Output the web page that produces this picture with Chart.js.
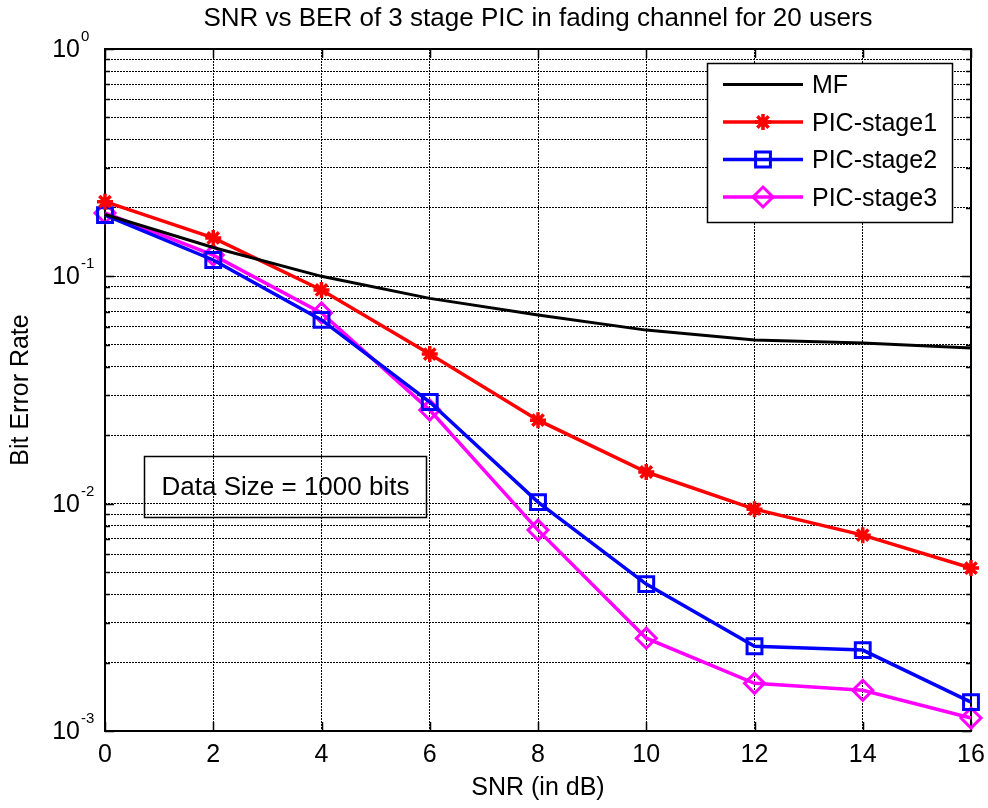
<!DOCTYPE html>
<html>
<head>
<meta charset="utf-8">
<script src="https://cdn.jsdelivr.net/npm/chart.js@4.4.1/dist/chart.umd.min.js"></script>
<style>
html,body{margin:0;padding:0;background:#fff;}
#wrap{width:988px;height:808px;position:relative;}
</style>
</head>
<body>
<div id="wrap"><canvas id="c" width="988" height="808"></canvas></div>
<script>
// ---- data ----
const snrDb = [0, 2, 4, 6, 8, 10, 12, 14, 16];
const berMF = [0.187, 0.134, 0.100, 0.080, 0.0676, 0.058, 0.0525, 0.0509, 0.0484];
const berStage1 = [0.213, 0.1475, 0.0871, 0.0455, 0.0233, 0.01378, 0.00946, 0.00727, 0.00521];
const berStage2 = [0.186, 0.118, 0.0643, 0.0280, 0.01016, 0.00443, 0.00236, 0.00227, 0.00134];
const berStage3 = [0.190, 0.124, 0.0690, 0.0258, 0.00765, 0.00256, 0.00162, 0.00151, 0.00114];
const seriesNames = ['MF', 'PIC-stage1', 'PIC-stage2', 'PIC-stage3'];
const xTicks = [0, 2, 4, 6, 8, 10, 12, 14, 16];
const yDecades = [1, 0.1, 0.01, 0.001];
const yExponents = ['0', '-1', '-2', '-3'];
const yMantissas = [1, 2, 3, 4, 5, 6, 7, 8, 9];
const titleText = 'SNR vs BER of 3 stage PIC in fading channel for 20 users';
const xTitle = 'SNR (in dB)';
const yTitle = 'Bit Error Rate';
const noteText = 'Data Size = 1000 bits';

// grid values for the log axis (1..9 per decade)
const yGridValues = [];
[0.001, 0.01, 0.1].forEach(d => yMantissas.forEach(m => yGridValues.push(m * d)));
yGridValues.push(1);

const FONT = '"Liberation Sans", Arial, Helvetica, sans-serif';
Chart.defaults.color = '#000';
Chart.defaults.font.family = FONT;

function pts(arr) { return snrDb.map((x, i) => ({ x: x, y: arr[i] })); }

const datasets = [
  { label: seriesNames[0], data: pts(berMF), borderColor: '#000000', backgroundColor: '#000000',
    borderWidth: 3, pointRadius: 0, pointStyle: false, clip: false },
  { label: seriesNames[1], data: pts(berStage1), borderColor: '#ff0000', backgroundColor: '#ff0000',
    borderWidth: 3.5, pointStyle: 'star', pointRadius: 8, pointBorderWidth: 3.5,
    pointBorderColor: '#ff0000', pointBackgroundColor: '#ff0000', clip: false },
  { label: seriesNames[2], data: pts(berStage2), borderColor: '#0000ff', backgroundColor: '#0000ff',
    borderWidth: 3.5, pointStyle: 'rect', pointRadius: 10.5, pointBorderWidth: 3,
    pointBorderColor: '#0000ff', pointBackgroundColor: 'rgba(0,0,0,0)', clip: false },
  { label: seriesNames[3], data: pts(berStage3), borderColor: '#ff00ff', backgroundColor: '#ff00ff',
    borderWidth: 3.5, pointStyle: 'rectRot', pointRadius: 10, pointBorderWidth: 3,
    pointBorderColor: '#ff00ff', pointBackgroundColor: 'rgba(0,0,0,0)', clip: false }
];

const matlabPlugin = {
  id: 'matlabLook',
  beforeDatasetsDraw(chart) {
    const { ctx, chartArea: a, scales: { x, y } } = chart;
    ctx.save();
    ctx.setLineDash([]);
    ctx.strokeStyle = '#000';
    ctx.lineWidth = 1.5;
    ctx.beginPath();
    xTicks.forEach(v => {
      const px = Math.round(x.getPixelForValue(v)) + 0.5;
      ctx.moveTo(px, a.bottom); ctx.lineTo(px, a.bottom - 9);
      ctx.moveTo(px, a.top); ctx.lineTo(px, a.top + 9);
    });
    yGridValues.forEach((v, i) => {
      const py = Math.round(y.getPixelForValue(v)) + 0.5;
      const L = (i % 9 === 0 || i === yGridValues.length - 1) ? 9 : 5;
      ctx.moveTo(a.left, py); ctx.lineTo(a.left + L, py);
      ctx.moveTo(a.right, py); ctx.lineTo(a.right - L, py);
    });
    ctx.stroke();
    ctx.lineWidth = 2;
    ctx.strokeRect(a.left, a.top, a.right - a.left, a.bottom - a.top);
    ctx.restore();
  },
  afterDraw(chart) {
    const { ctx, scales: { y } } = chart;
    ctx.save();
    // y tick labels with superscript exponents
    yDecades.forEach((v, i) => {
      const py = y.getPixelForValue(v);
      ctx.fillStyle = '#000';
      ctx.font = '25px ' + FONT;
      ctx.textAlign = 'right';
      ctx.textBaseline = 'middle';
      ctx.fillText('10', 80, py + 1);
      ctx.font = '15px ' + FONT;
      ctx.textAlign = 'left';
      ctx.fillText(yExponents[i], 81, py - 12);
    });

    // note box (transparent)
    ctx.lineWidth = 1.5;
    ctx.strokeStyle = '#000';
    ctx.strokeRect(144.5, 456.5, 282, 61);
    ctx.font = '26px ' + FONT;
    ctx.textAlign = 'center';
    ctx.textBaseline = 'middle';
    ctx.fillStyle = '#000';
    ctx.fillText(noteText, 285.5, 488);

    // legend box (white)
    const lx = 707, ly = 63, lw = 245, lh = 159;
    ctx.fillStyle = '#fff';
    ctx.fillRect(lx, ly, lw, lh);
    ctx.strokeRect(lx + 0.5, ly + 0.5, lw, lh);
    chart.data.datasets.forEach((ds, i) => {
      const yy = 84.5 + i * 37.5;
      ctx.setLineDash([]);
      ctx.strokeStyle = ds.borderColor;
      ctx.lineWidth = ds.borderWidth;
      ctx.beginPath();
      ctx.moveTo(723, yy); ctx.lineTo(803, yy);
      ctx.stroke();
      if (ds.pointStyle) {
        ctx.lineWidth = ds.pointBorderWidth;
        ctx.strokeStyle = ds.pointBorderColor;
        ctx.fillStyle = ds.pointBackgroundColor;
        Chart.helpers.drawPoint(ctx, { pointStyle: ds.pointStyle, radius: ds.pointRadius,
          rotation: 0, borderWidth: ds.pointBorderWidth }, 763, yy);
      }
      ctx.fillStyle = '#000';
      ctx.font = '25px ' + FONT;
      ctx.textAlign = 'left';
      ctx.textBaseline = 'middle';
      ctx.fillText(ds.label, 812, yy + 2);
    });
    ctx.restore();
  }
};

new Chart(document.getElementById('c'), {
  type: 'line',
  data: { datasets: datasets },
  plugins: [matlabPlugin],
  options: {
    responsive: false,
    devicePixelRatio: 1,
    animation: false,
    events: [],
    layout: { padding: { left: 0, right: 17, top: 0, bottom: 0 } },
    plugins: {
      legend: { display: false },
      tooltip: { enabled: false },
      title: {
        display: true, text: titleText, fullSize: false,
        font: { size: 26, weight: 'normal', family: FONT },
        color: '#000',
        padding: { top: 3, bottom: 14.8 }
      }
    },
    elements: { line: { tension: 0 } },
    scales: {
      x: {
        type: 'linear', min: 0, max: 16,
        afterBuildTicks: s => { s.ticks = xTicks.map(v => ({ value: v })); },
        afterFit: s => { s.height = 77; s.paddingLeft = 0; s.paddingRight = 0; },
        ticks: { font: { size: 25, family: FONT }, color: '#000', padding: 9, maxRotation: 0, autoSkip: false },
        grid: { color: '#000', lineWidth: 1, drawTicks: false },
        border: { display: false, dash: [2, 1] },
        title: { display: true, text: xTitle, font: { size: 25, family: FONT }, color: '#000',
          padding: { top: 0, bottom: 5 } }
      },
      y: {
        type: 'logarithmic', min: 0.001, max: 1,
        afterBuildTicks: s => { s.ticks = yGridValues.map(v => ({ value: v })); },
        afterFit: s => { s.width = 105; s.paddingTop = 0; s.paddingBottom = 0; },
        ticks: { display: false },
        grid: { color: '#000', lineWidth: 1, drawTicks: false },
        border: { display: false, dash: [2, 1] },
        title: { display: true, text: yTitle, font: { size: 25, family: FONT }, color: '#000',
          padding: { top: 6, bottom: 0 } }
      }
    }
  }
});
</script>
</body>
</html>
